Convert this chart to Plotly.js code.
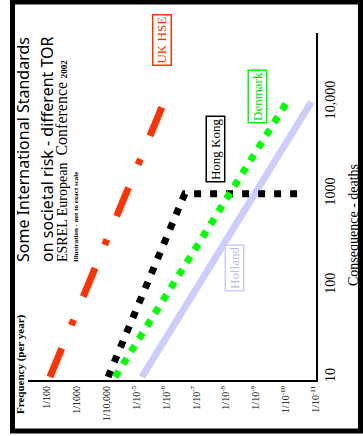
<!DOCTYPE html>
<html>
<head>
<meta charset="utf-8">
<script src="https://cdn.plot.ly/plotly-3.0.1.min.js"></script>
<style>html,body{margin:0;padding:0;background:#fff;}#chart{width:363px;height:436px;}</style>
</head>
<body>
<div id="chart"></div>
<script>
// Consequence (deaths) and frequency (per year) values
const ukHseDeaths = [10, 10000];
const ukHseFreq = [0.008, 1.2e-6];
const hongKongDeaths = [10, 1000, 1000];
const hongKongFreq = [9e-5, 2.4e-7, 2.2e-11];
const denmarkDeaths = [10, 10000];
const denmarkFreq = [5.2e-5, 9.1e-11];
const hollandDeaths = [10, 10000];
const hollandFreq = [6.6e-6, 1.4e-11];

const freqTickVals = [1e-2, 1e-3, 1e-4, 1e-5, 1e-6, 1e-7, 1e-8, 1e-9, 1e-10, 1e-11];
const freqTickText = ['1/100', '1/1000', '1/10,000', '1/10<sup>-5</sup>', '1/10<sup>-6</sup>',
  '1/10<sup>-7</sup>', '1/10<sup>-8</sup>', '1/10<sup>-9</sup>', '1/10<sup>-10</sup>', '1/10<sup>-11</sup>'];
const deathTickVals = [10, 100, 1000, 10000];
const deathTickText = ['10', '100', '1000', '10,000'];

const titleLines = ['Some International Standards', 'on societal risk - different TOR',
  'ESREL European  <span style="font-size:16px">Conference</span> <b style="font-size:9px">2002</b>',
  '<b>Illustration - not to exact scale</b>'];

const SERIF = '"Liberation Serif", "Times New Roman", serif';
const SANS = '"Noto Sans", sans-serif';

const traces = [
  {x: hollandFreq, y: hollandDeaths, mode: 'lines', name: 'Holland',
   line: {color: '#ccccff', width: 7}},
  {x: hongKongFreq, y: hongKongDeaths, mode: 'lines', name: 'Hong Kong',
   line: {color: '#000000', width: 7, dash: '7px,9px'}},
  {x: denmarkFreq, y: denmarkDeaths, mode: 'lines', name: 'Denmark',
   line: {color: '#00ff00', width: 7, dash: '7px,8px'}},
  {x: ukHseFreq, y: ukHseDeaths, mode: 'lines', name: 'UK HSE',
   line: {color: '#ff3300', width: 7, dash: '31px,25px,6px,25px'}}
];

function label(text, x, y, color, border) {
  return {text: text, xref: 'paper', yref: 'paper', x: x, y: y, showarrow: false,
    textangle: -90, xanchor: 'center', yanchor: 'middle',
    font: {family: SERIF, size: 13, color: color},
    bordercolor: border, borderwidth: 1.5, borderpad: 1, bgcolor: '#ffffff'};
}

function rotText(text, x, y, yanchor, family, size) {
  return {text: text, xref: 'paper', yref: 'paper', x: x, y: y, showarrow: false,
    textangle: -90, xanchor: 'center', yanchor: yanchor,
    font: {family: family, size: size, color: '#000'}};
}

const annotations = [
  label('UK HSE', 0.4653, 0.9798, '#ff3300', '#ff3300'),
  label('Hong Kong', 0.6493, 0.6671, '#000000', '#000000'),
  label('Denmark', 0.7969, 0.8156, '#00dd00', '#00ff00'),
  label('Holland', 0.717, 0.3228, '#b8b8ee', '#ccccff'),
  rotText(titleLines[0], -0.0156, 0.3343, 'bottom', SANS, 16),
  rotText(titleLines[1], 0.0660, 0.3343, 'bottom', SANS, 16),
  rotText(titleLines[2], 0.118, 0.3343, 'bottom', SERIF, 14),
  rotText(titleLines[3], 0.1667, 0.3343, 'bottom', SERIF, 7),
  rotText('<b>Frequency (per year)</b>', -0.0243, 0.196, 'top', SERIF, 11),
  rotText('Consequence - deaths', 1.1320, 0.4467, 'middle', SERIF, 14)
];

const layout = {
  width: 363, height: 436, autosize: false,
  margin: {l: 28, r: 47, t: 33, b: 56, pad: 0},
  paper_bgcolor: '#ffffff', plot_bgcolor: '#ffffff',
  showlegend: false,
  xaxis: {type: 'log', range: [-1.3635, -11.012], showgrid: false, zeroline: false,
    showline: true, linecolor: '#000', linewidth: 2, ticks: '',
    tickvals: freqTickVals, ticktext: freqTickText, tickangle: -90,
    tickfont: {family: SERIF, size: 10, color: '#000'}},
  yaxis: {type: 'log', range: [0.967, 4.7526], side: 'right', showgrid: false, zeroline: false,
    showline: true, linecolor: '#000', linewidth: 2, ticks: '',
    tickvals: deathTickVals, ticktext: deathTickText, tickangle: -90,
    tickfont: {family: SERIF, size: 14, color: '#000'}},
  annotations: annotations,
  shapes: [
    {type: 'rect', xref: 'paper', yref: 'paper', x0: -0.0538, x1: 1.1545, y0: -0.147, y1: 1.0893,
     line: {color: '#000', width: 5}, fillcolor: 'rgba(0,0,0,0)'}
  ]
};

Plotly.newPlot('chart', traces, layout, {displayModeBar: false});
</script>
</body>
</html>
